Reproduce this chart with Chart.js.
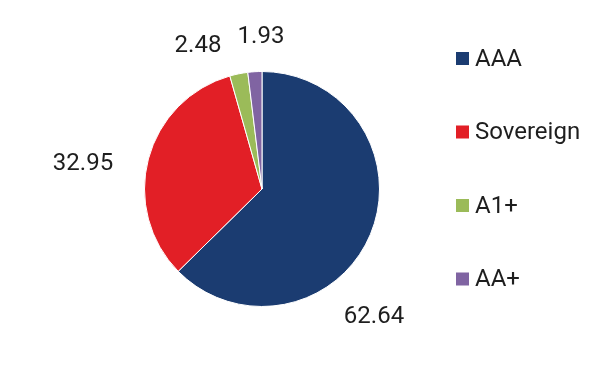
<!DOCTYPE html>
<html>
<head>
<meta charset="utf-8">
<script src="https://cdn.jsdelivr.net/npm/chart.js@4.4.0/dist/chart.umd.min.js"></script>
<style>
  html, body { margin: 0; padding: 0; background: #fff; }
  #wrap { width: 615px; height: 372px; position: relative; }
</style>
</head>
<body>
<div id="wrap"><canvas id="pie-chart"></canvas></div>
<script>
const labels = ['AAA', 'Sovereign', 'A1+', 'AA+'];
const values = [62.64, 32.95, 2.48, 1.93];
const colors = ['#1b3c71', '#e21f26', '#9bbb59', '#8064a2'];

// where each value label sits, relative to the pie centre
const labelOffsets = [[112, 128], [-179, -25], [-64, -143], [-1, -152]];

const FONT = 'Roboto, "Noto Sans", sans-serif';

const valueLabels = {
    id: 'valueLabels',
    afterDatasetsDraw(chart) {
        const ctx = chart.ctx;
        const arcs = chart.getDatasetMeta(0).data;
        ctx.save();
        ctx.font = '24px ' + FONT;
        ctx.fillStyle = '#1e1e1e';
        ctx.textAlign = 'center';
        ctx.textBaseline = 'middle';
        arcs.forEach((arc, i) => {
            const off = labelOffsets[i];
            ctx.fillText(values[i].toFixed(2), arc.x + off[0], arc.y + off[1]);
        });
        ctx.restore();
    }
};

const sideLegend = {
    id: 'sideLegend',
    afterDraw(chart) {
        const ctx = chart.ctx;
        const x = 456, top = 58.5, step = 73.5, box = 13;
        ctx.save();
        ctx.font = '24px ' + FONT;
        ctx.textBaseline = 'middle';
        labels.forEach((name, i) => {
            const y = top + i * step;
            ctx.fillStyle = colors[i];
            ctx.fillRect(x, y - box / 2, box, box);
            ctx.fillStyle = '#1e1e1e';
            ctx.fillText(name, x + 19, y + 1);
        });
        ctx.restore();
    }
};

const config = {
    type: 'pie',
    data: {
        labels: labels,
        datasets: [{
            data: values,
            backgroundColor: colors,
            borderColor: '#ffffff',
            borderWidth: 1,
        }]
    },
    options: {
        responsive: true,
        maintainAspectRatio: false,
        animation: false,
        layout: {
            padding: { left: 144, right: 235, top: 71, bottom: 65 }
        },
        plugins: {
            legend: { display: false },
            tooltip: { enabled: false },
        }
    },
    plugins: [valueLabels, sideLegend]
};

new Chart(document.getElementById('pie-chart'), config);
</script>
</body>
</html>
